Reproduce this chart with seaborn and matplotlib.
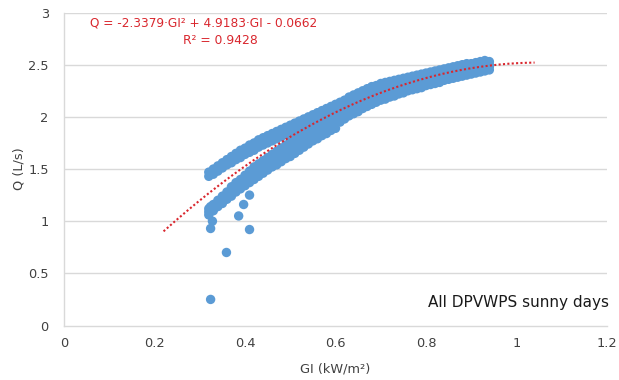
import numpy as np
import pandas as pd
import matplotlib
matplotlib.use("Agg")
import matplotlib.pyplot as plt
import seaborn as sns

# ---------------- data ----------------
gi_left = [0.32, 0.33, 0.34, 0.35, 0.36, 0.37, 0.38, 0.39, 0.40, 0.41,
           0.42, 0.43, 0.44, 0.45, 0.46, 0.47, 0.48, 0.49, 0.50, 0.51,
           0.52, 0.53, 0.54, 0.55, 0.56, 0.57, 0.58, 0.59, 0.60]
upper_top = [1.47, 1.50, 1.53, 1.56, 1.59, 1.62, 1.65, 1.68, 1.70, 1.73,
             1.75, 1.78, 1.80, 1.82, 1.84, 1.86, 1.88, 1.90, 1.92, 1.94,
             1.96, 1.98, 2.00, 2.02, 2.04, 2.06, 2.08, 2.10, 2.12]
upper_bot = [1.43, 1.45, 1.48, 1.51, 1.54, 1.56, 1.59, 1.61, 1.64, 1.66,
             1.68, 1.71, 1.73, 1.75, 1.77, 1.79, 1.81, 1.83, 1.85, 1.87,
             1.89, 1.91, 1.93, 1.95, 1.97, 1.99, 2.01, 2.03, 2.05]
lower_top = [1.12, 1.16, 1.20, 1.24, 1.28, 1.33, 1.37, 1.40, 1.44, 1.48,
             1.52, 1.55, 1.58, 1.61, 1.64, 1.67, 1.70, 1.73, 1.76, 1.78,
             1.81, 1.84, 1.86, 1.88, 1.90, 1.92, 1.94, 1.96, 1.98]
lower_mid = [1.09, 1.13, 1.17, 1.21, 1.25, 1.29, 1.33, 1.36, 1.39, 1.43,
             1.46, 1.49, 1.52, 1.55, 1.58, 1.61, 1.64, 1.67, 1.69, 1.72,
             1.75, 1.78, 1.80, 1.83, 1.85, 1.87, 1.89, 1.92, 1.94]
lower_bot = [1.06, 1.10, 1.14, 1.17, 1.21, 1.24, 1.28, 1.31, 1.34, 1.37,
             1.40, 1.43, 1.46, 1.49, 1.52, 1.54, 1.57, 1.60, 1.62, 1.65,
             1.68, 1.71, 1.74, 1.77, 1.79, 1.82, 1.84, 1.87, 1.89]

gi_right = [0.61, 0.62, 0.63, 0.64, 0.65, 0.66, 0.67, 0.68, 0.69, 0.70,
            0.71, 0.72, 0.73, 0.74, 0.75, 0.76, 0.77, 0.78, 0.79, 0.80,
            0.81, 0.82, 0.83, 0.84, 0.85, 0.86, 0.87, 0.88, 0.89, 0.90,
            0.91, 0.92, 0.93, 0.94]
band_r1 = [1.95, 1.98, 2.01, 2.03, 2.05, 2.08, 2.10, 2.12, 2.14, 2.16,
           2.17, 2.19, 2.20, 2.22, 2.23, 2.25, 2.26, 2.27, 2.28, 2.30,
           2.31, 2.32, 2.33, 2.35, 2.36, 2.37, 2.38, 2.39, 2.40, 2.41,
           2.42, 2.43, 2.44, 2.45]
band_r2 = [2.02, 2.04, 2.07, 2.09, 2.11, 2.14, 2.16, 2.18, 2.19, 2.21,
           2.22, 2.24, 2.25, 2.27, 2.28, 2.29, 2.30, 2.31, 2.32, 2.34,
           2.35, 2.36, 2.37, 2.39, 2.40, 2.41, 2.42, 2.43, 2.44, 2.44,
           2.45, 2.46, 2.47, 2.48]
band_r3 = [2.08, 2.11, 2.13, 2.15, 2.17, 2.19, 2.21, 2.23, 2.25, 2.27,
           2.28, 2.29, 2.30, 2.31, 2.32, 2.34, 2.35, 2.36, 2.37, 2.38,
           2.39, 2.40, 2.41, 2.42, 2.43, 2.44, 2.45, 2.46, 2.47, 2.48,
           2.49, 2.50, 2.51, 2.50]
band_r4 = [2.14, 2.16, 2.19, 2.21, 2.23, 2.25, 2.27, 2.29, 2.30, 2.32,
           2.33, 2.34, 2.35, 2.36, 2.37, 2.38, 2.39, 2.40, 2.41, 2.42,
           2.43, 2.44, 2.45, 2.46, 2.47, 2.48, 2.49, 2.50, 2.51, 2.51,
           2.52, 2.53, 2.54, 2.53]

gi_outliers = [0.324, 0.359, 0.324, 0.386, 0.397, 0.410, 0.410, 0.328, 0.324]
q_outliers = [0.93, 0.70, 0.25, 1.05, 1.16, 1.25, 0.92, 1.00, 1.14]

trend_coef = [-2.3379, 4.9183, -0.0662]
trend_range = [0.22, 1.04]

x_ticks = [0, 0.2, 0.4, 0.6, 0.8, 1.0, 1.2]
x_tick_labels = ["0", "0.2", "0.4", "0.6", "0.8", "1", "1.2"]
y_ticks = [0, 0.5, 1, 1.5, 2, 2.5, 3]
y_tick_labels = ["0", "0.5", "1", "1.5", "2", "2.5", "3"]

eq_text = "Q = -2.3379·GI² + 4.9183·GI - 0.0662"
r2_text = "R² = 0.9428"
note_text = "All DPVWPS sunny days"

# ---------------- build table ----------------
gi_all, q_all = [], []
for row in (upper_top, upper_bot, lower_top, lower_mid, lower_bot):
    gi_all += gi_left
    q_all += row
for row in (band_r1, band_r2, band_r3, band_r4):
    gi_all += gi_right
    q_all += row
gi_all += gi_outliers
q_all += q_outliers
df = pd.DataFrame({"GI": gi_all, "Q": q_all})

# ---------------- plot ----------------
sns.set_style("white")
plt.rcParams["font.family"] = ["DejaVu Sans"]

fig = plt.figure(figsize=(6.19, 3.80), dpi=100)
ax = fig.add_axes([0.1034, 0.1434, 0.8772, 0.8236])

grid_c = "#D9D9D9"
text_c = "#404040"
blue = "#5B9BD5"
red = "#D9272E"

for yv in y_ticks[1:]:
    ax.axhline(yv, color=grid_c, lw=1.0, zorder=0)

sns.scatterplot(data=df, x="GI", y="Q", ax=ax, s=46, color=blue,
                edgecolor="none", linewidth=0, zorder=2, legend=False)

tx = np.linspace(trend_range[0], trend_range[1], 200)
ax.plot(tx, np.polyval(trend_coef, tx), color=red, lw=1.5,
        linestyle=(0, (1, 1.1)), zorder=3)

ax.set_xlim(0, 1.2)
ax.set_ylim(0, 3)
ax.set_xticks(x_ticks)
ax.set_xticklabels(x_tick_labels)
ax.set_yticks(y_ticks)
ax.set_yticklabels(y_tick_labels)
ax.tick_params(axis="both", length=0, labelsize=9.3, colors=text_c)
ax.tick_params(axis="x", pad=8)
ax.tick_params(axis="y", pad=11)

for side in ("top", "right"):
    ax.spines[side].set_visible(False)
for side in ("left", "bottom"):
    ax.spines[side].set_color(grid_c)
    ax.spines[side].set_linewidth(1.0)

ax.set_xlabel("GI (kW/m²)", fontsize=9.3, color=text_c, labelpad=9)
ax.set_ylabel("Q (L/s)", fontsize=9.3, color=text_c, labelpad=2)

ax.text(0.309, 2.895, eq_text, fontsize=8.7, color=red, ha="center", va="center")
ax.text(0.345, 2.735, r2_text, fontsize=8.9, color=red, ha="center", va="center")
ax.text(1.205, 0.225, note_text, fontsize=11, color="#1a1a1a", ha="right", va="center")

fig.savefig("out.png", dpi=100)
